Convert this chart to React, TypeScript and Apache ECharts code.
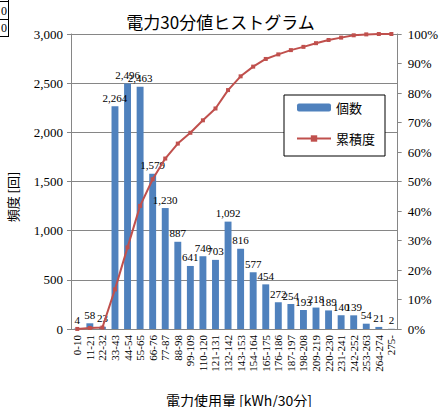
import React, { useEffect, useRef } from "react";
import * as echarts from "echarts";

const categories = [
  "0-10", "11-21", "22-32", "33-43", "44-54", "55-65", "66-76", "77-87", "88-98",
  "99-109", "110-120", "121-131", "132-142", "143-153", "154-164", "165-175",
  "176-186", "187-197", "198-208", "209-219", "220-230", "231-241", "242-252",
  "253-263", "264-274", "275-",
];
const counts = [
  4, 58, 23, 2264, 2496, 2463, 1579, 1230, 887, 641, 740, 703, 1092, 816, 577, 454,
  272, 254, 193, 218, 189, 140, 139, 54, 21, 2,
];
const leftTicks = { min: 0, max: 3000, interval: 500 };
const rightTicks = { min: 0, max: 100, interval: 10 };

const total = counts.reduce((a, b) => a + b, 0);
const cumulative: number[] = [];
{
  let run = 0;
  for (const c of counts) {
    run += c;
    cumulative.push(+((run / total) * 100).toFixed(2));
  }
}

const NUM_FONT = "Liberation Serif";
const JP_FONT = "Noto Sans CJK JP";
const AXIS_GRAY = "#868686";

export default function App() {
  const ref = useRef<HTMLDivElement>(null);
  useEffect(() => {
    if (!ref.current) return;
    const chart = echarts.init(ref.current, undefined, { renderer: "svg" });
    chart.setOption({
      animation: false,
      backgroundColor: "#fff",
      title: {
        text: "電力30分値ヒストグラム",
        left: "center",
        top: 8,
        textStyle: { fontSize: 17, fontWeight: "normal", color: "#000", fontFamily: JP_FONT },
      },
      grid: { left: 71, right: 38, top: 34, bottom: 78, containLabel: false },
      legend: {
        orient: "vertical",
        left: 284,
        top: 95,
        data: ["個数", "累積度"],
        borderColor: "#000",
        borderWidth: 1,
        backgroundColor: "#fff",
        padding: [6, 10, 11, 12],
        itemGap: 18,
        itemWidth: 34,
        itemHeight: 8,
        textStyle: { fontSize: 13, fontFamily: JP_FONT, color: "#000" },
      },
      xAxis: {
        type: "category",
        data: categories,
        axisLine: { lineStyle: { color: AXIS_GRAY } },
        axisTick: { length: 4, lineStyle: { color: AXIS_GRAY } },
        axisLabel: {
          rotate: 90,
          interval: 0,
          fontSize: 11,
          fontFamily: NUM_FONT,
          color: "#000",
          margin: 6,
        },
      },
      yAxis: [
        {
          type: "value",
          ...leftTicks,
          axisLine: { show: true, lineStyle: { color: AXIS_GRAY } },
          axisTick: { show: true, length: 4, lineStyle: { color: AXIS_GRAY } },
          splitLine: { lineStyle: { color: AXIS_GRAY } },
          axisLabel: {
            formatter: (v: number) => v.toLocaleString("en-US"),
            fontSize: 13,
            fontFamily: NUM_FONT,
            color: "#000",
            margin: 8,
          },
        },
        {
          type: "value",
          ...rightTicks,
          position: "right",
          axisLine: { show: true, lineStyle: { color: AXIS_GRAY } },
          axisTick: { show: true, length: 4, lineStyle: { color: AXIS_GRAY } },
          splitLine: { show: false },
          axisLabel: {
            formatter: "{value}%",
            fontSize: 13,
            fontFamily: NUM_FONT,
            color: "#000",
            margin: 10,
          },
        },
      ],
      series: [
        {
          name: "個数",
          type: "bar",
          data: counts,
          barWidth: "55%",
          itemStyle: { color: "#4F81BD" },
          label: {
            show: true,
            position: "top",
            distance: 3,
            fontSize: 11,
            fontFamily: NUM_FONT,
            color: "#000",
            formatter: (p: any) => Number(p.value).toLocaleString("en-US"),
          },
        },
        {
          name: "累積度",
          type: "line",
          yAxisIndex: 1,
          data: cumulative,
          symbol: "rect",
          symbolSize: 4,
          lineStyle: { color: "#C0504D", width: 2 },
          itemStyle: { color: "#C0504D" },
          z: 3,
        },
      ],
      graphic: [
        {
          type: "text",
          x: 12,
          y: 197,
          rotation: Math.PI / 2,
          style: {
            text: "頻度 [回]",
            fontSize: 13,
            fontFamily: JP_FONT,
            fill: "#000",
            align: "center",
            verticalAlign: "middle",
          },
        },
        {
          type: "text",
          x: 239,
          y: 400,
          style: {
            text: "電力使用量 [kWh/30分]",
            fontSize: 14,
            fontFamily: JP_FONT,
            fill: "#000",
            align: "center",
            verticalAlign: "middle",
          },
        },
        { type: "line", shape: { x1: 8.5, y1: 0, x2: 8.5, y2: 37 }, style: { stroke: "#000", lineWidth: 1 } },
        { type: "line", shape: { x1: 0, y1: 1.5, x2: 8.5, y2: 1.5 }, style: { stroke: "#000", lineWidth: 1 } },
        { type: "line", shape: { x1: 0, y1: 19.5, x2: 8.5, y2: 19.5 }, style: { stroke: "#000", lineWidth: 1 } },
        { type: "line", shape: { x1: 0, y1: 36.5, x2: 8.5, y2: 36.5 }, style: { stroke: "#000", lineWidth: 1 } },
        {
          type: "text",
          x: 7,
          y: 11,
          style: { text: "0", fontSize: 12, fontFamily: NUM_FONT, fill: "#000", align: "right", verticalAlign: "middle" },
        },
        {
          type: "text",
          x: 7,
          y: 28,
          style: { text: "0", fontSize: 12, fontFamily: NUM_FONT, fill: "#000", align: "right", verticalAlign: "middle" },
        },
      ],
    });
    return () => chart.dispose();
  }, []);
  return <div ref={ref} style={{ width: 441, height: 407, position: "absolute", left: 0, top: 0 }} />;
}
